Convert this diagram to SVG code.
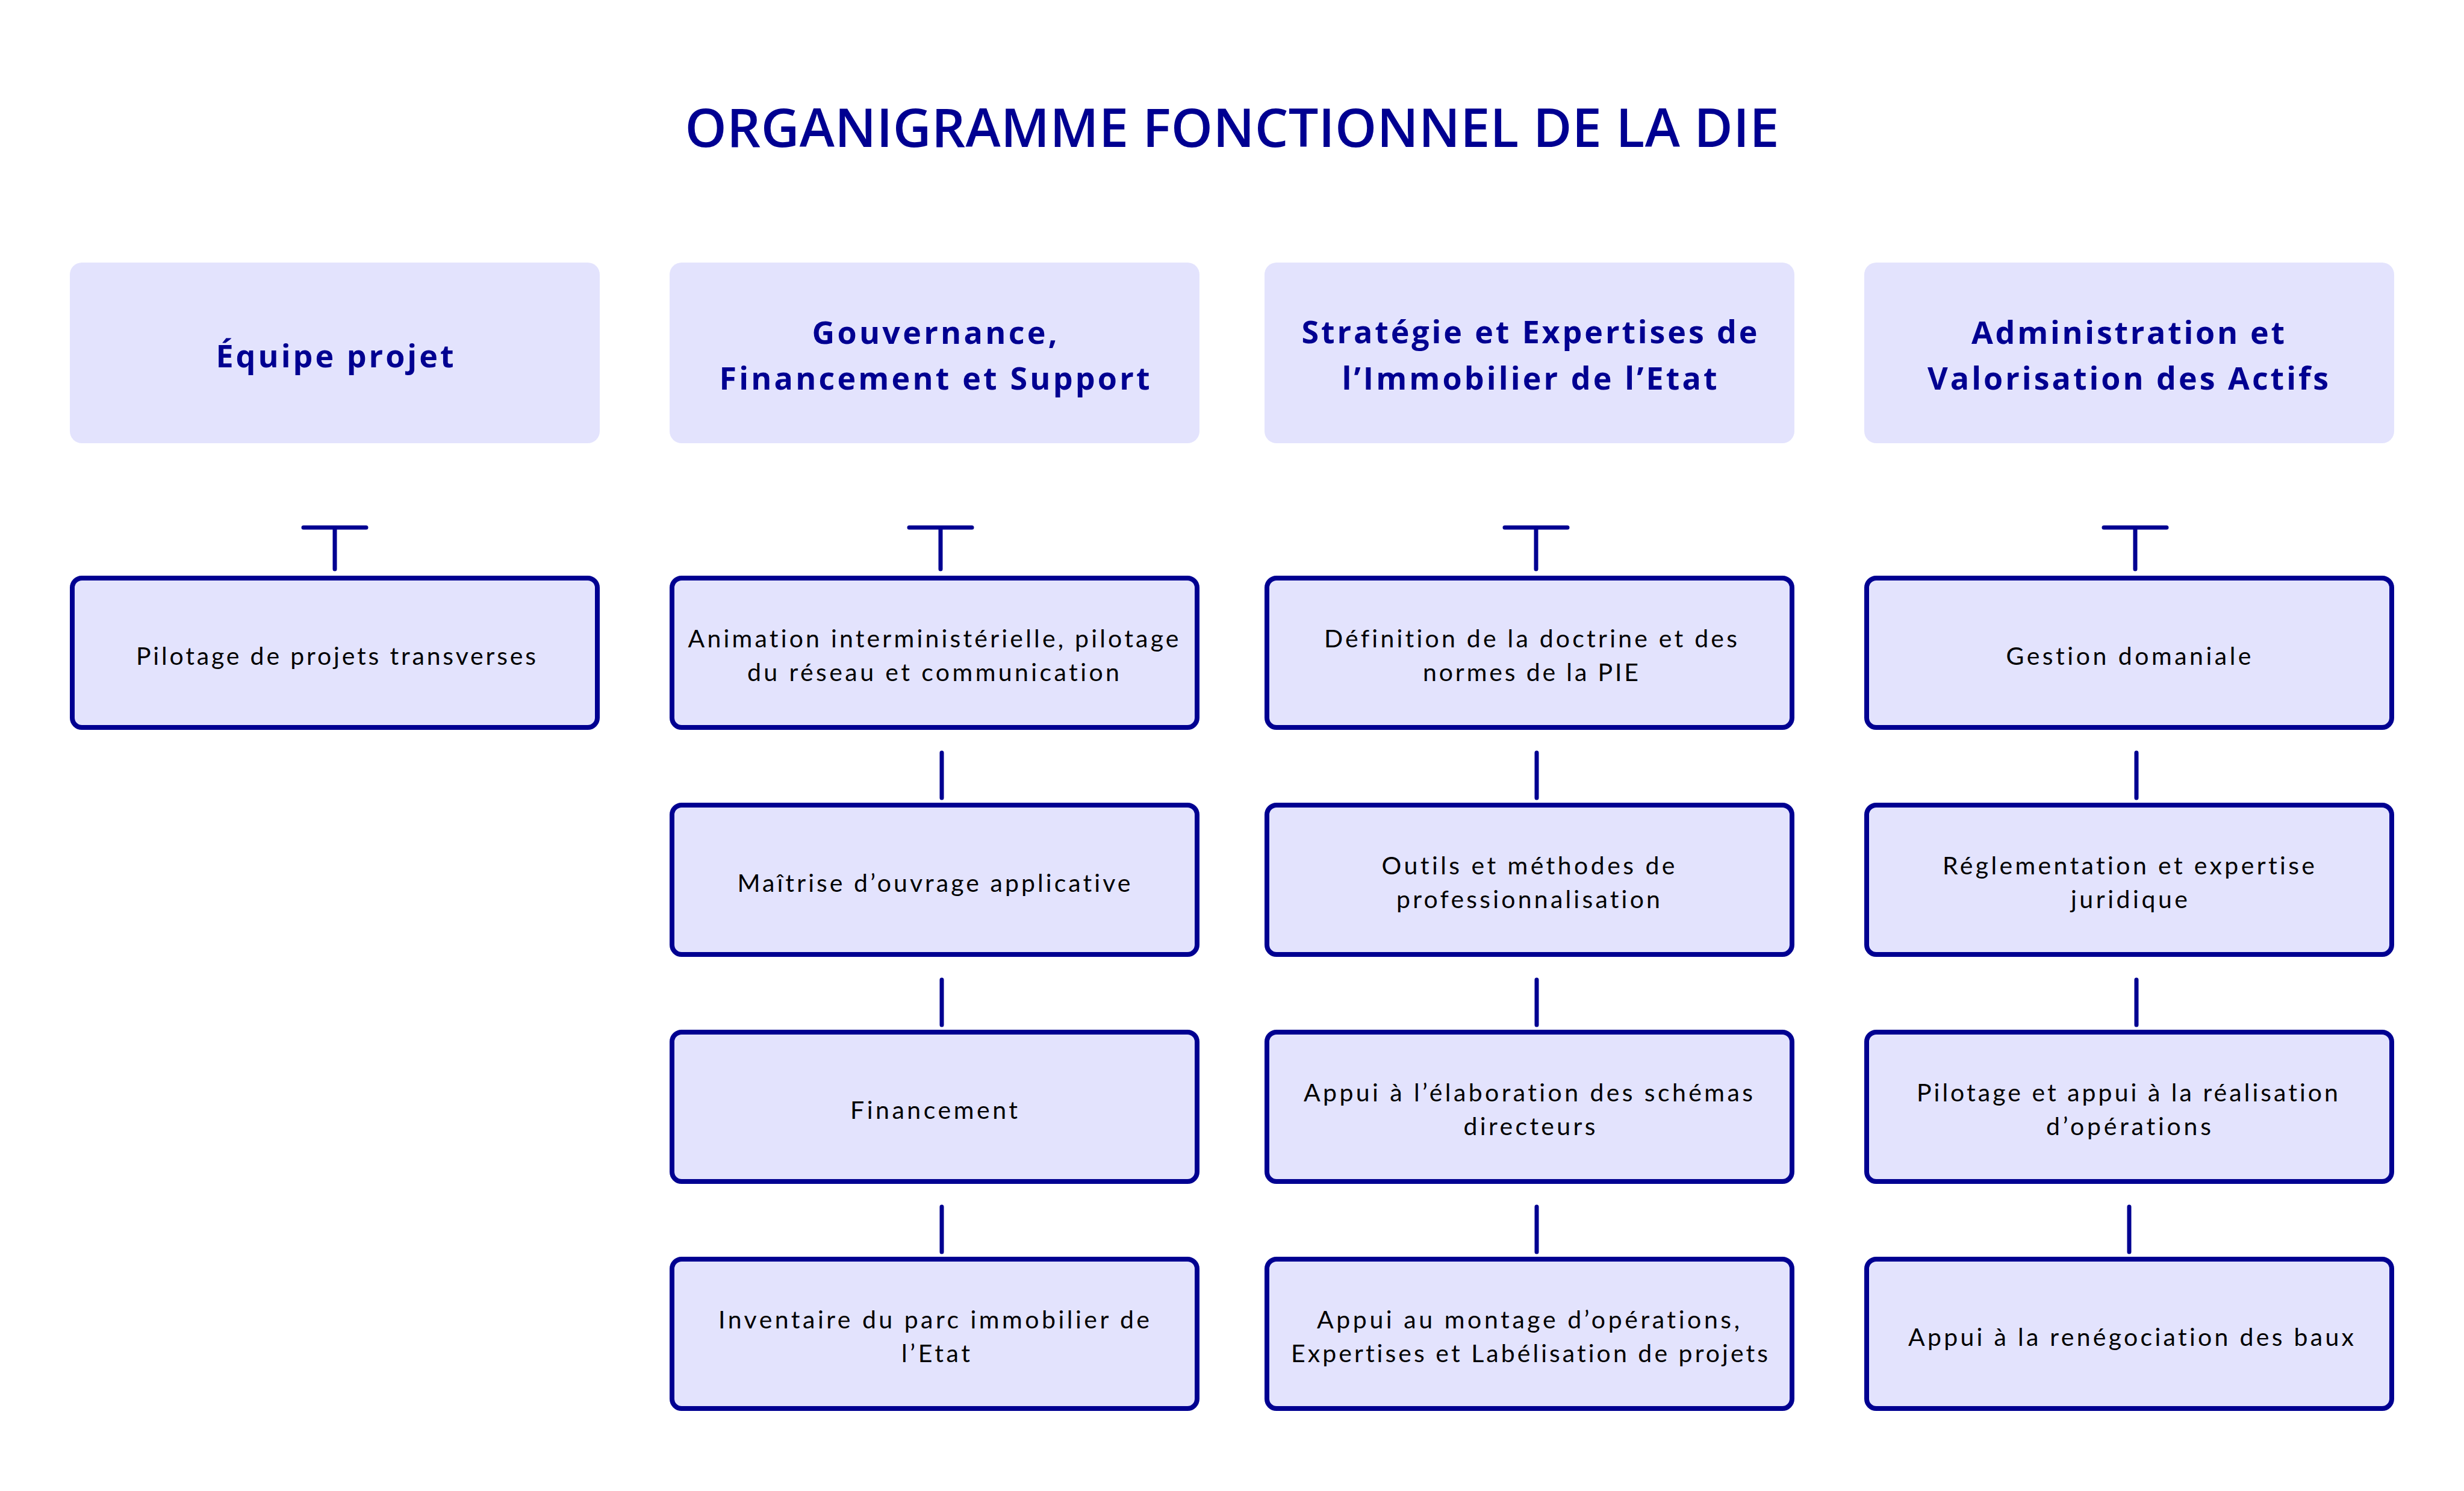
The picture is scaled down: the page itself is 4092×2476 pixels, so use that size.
<svg xmlns="http://www.w3.org/2000/svg" width="4092" height="2476" viewBox="0 0 4092 2476">
<style>
.bg{fill:#ffffff}
.head{fill:#e3e3fd}
.box{fill:#e3e3fd;stroke:#000091;stroke-width:8}
text{font-variant-ligatures:none}
.title{font-family:"Open Sans","Liberation Sans",sans-serif;font-weight:600;font-size:88px;fill:#000091;text-anchor:middle}
.ht{font-family:"Open Sans","Liberation Sans",sans-serif;font-weight:700;font-size:52px;fill:#000091;text-anchor:middle}
.ct{font-family:Lato,"Liberation Sans",sans-serif;font-weight:400;font-size:41px;fill:#000000;text-anchor:middle}
.con{stroke:#000091;stroke-width:7;stroke-linecap:round;fill:none}
</style>
<rect class="bg" x="0" y="0" width="4092" height="2476"/>
<text id="title" class="title" x="2046" y="244" textLength="1817" lengthAdjust="spacing">ORGANIGRAMME FONCTIONNEL DE LA DIE</text>

<g id="h1"><rect class="head" x="116" y="436" width="880" height="300" rx="20"/><text class="ht" x="556" y="610" textLength="395" lengthAdjust="spacing">Équipe projet</text></g>
<g id="h2"><rect class="head" x="1112" y="436" width="880" height="300" rx="20"/><text class="ht" x="1552" y="571" textLength="407" lengthAdjust="spacing">Gouvernance,</text><text class="ht" x="1552" y="647" textLength="715" lengthAdjust="spacing">Financement et Support</text></g>
<g id="h3"><rect class="head" x="2100" y="436" width="880" height="300" rx="20"/><text class="ht" x="2540" y="570" textLength="757" lengthAdjust="spacing">Stratégie et Expertises de</text><text class="ht" x="2540" y="647" textLength="623" lengthAdjust="spacing">l’Immobilier de l’Etat</text></g>
<g id="h4"><rect class="head" x="3096" y="436" width="880" height="300" rx="20"/><text class="ht" x="3534" y="571" textLength="520" lengthAdjust="spacing">Administration et</text><text class="ht" x="3534" y="647" textLength="666" lengthAdjust="spacing">Valorisation des Actifs</text></g>

<g id="connectors">
<path class="con" d="M504 876H608M556 876V945"/>
<path class="con" d="M1510 876H1614M1562 876V945"/>
<path class="con" d="M2499 876H2603M2551 876V945"/>
<path class="con" d="M3494 876H3598M3546 876V945"/>
<path class="con" d="M1564 1250V1325M1564 1627V1702M1564 2004V2079"/>
<path class="con" d="M2552 1250V1325M2552 1627V1702M2552 2004V2079"/>
<path class="con" d="M3548 1250V1325M3548 1627V1702M3536 2004V2079"/>
</g>

<g id="c1r1"><rect class="box" x="120" y="960" width="872" height="248" rx="16"/><text class="ct" x="558" y="1104" textLength="664" lengthAdjust="spacing">Pilotage de projets transverses</text></g>

<g id="c2r1"><rect class="box" x="1116" y="960" width="872" height="248" rx="16"/><text class="ct" x="1550" y="1075" textLength="815" lengthAdjust="spacing">Animation interministérielle, pilotage</text><text class="ct" x="1550" y="1131" textLength="618" lengthAdjust="spacing">du réseau et communication</text></g>
<g id="c2r2"><rect class="box" x="1116" y="1337" width="872" height="248" rx="16"/><text class="ct" x="1551" y="1481" textLength="653" lengthAdjust="spacing">Maîtrise d’ouvrage applicative</text></g>
<g id="c2r3"><rect class="box" x="1116" y="1714" width="872" height="248" rx="16"/><text class="ct" x="1551" y="1858" textLength="278" lengthAdjust="spacing">Financement</text></g>
<g id="c2r4"><rect class="box" x="1116" y="2091" width="872" height="248" rx="16"/><text class="ct" x="1551" y="2206" textLength="716" lengthAdjust="spacing">Inventaire du parc immobilier de</text><text class="ct" x="1554" y="2262" textLength="114" lengthAdjust="spacing">l’Etat</text></g>

<g id="c3r1"><rect class="box" x="2104" y="960" width="872" height="248" rx="16"/><text class="ct" x="2542" y="1075" textLength="686" lengthAdjust="spacing">Définition de la doctrine et des</text><text class="ct" x="2542" y="1131" textLength="358" lengthAdjust="spacing">normes de la PIE</text></g>
<g id="c3r2"><rect class="box" x="2104" y="1337" width="872" height="248" rx="16"/><text class="ct" x="2538" y="1452" textLength="487" lengthAdjust="spacing">Outils et méthodes de</text><text class="ct" x="2538" y="1508" textLength="438" lengthAdjust="spacing">professionnalisation</text></g>
<g id="c3r3"><rect class="box" x="2104" y="1714" width="872" height="248" rx="16"/><text class="ct" x="2538" y="1829" textLength="746" lengthAdjust="spacing">Appui à l’élaboration des schémas</text><text class="ct" x="2540" y="1885" textLength="219" lengthAdjust="spacing">directeurs</text></g>
<g id="c3r4"><rect class="box" x="2104" y="2091" width="872" height="248" rx="16"/><text class="ct" x="2538" y="2206" textLength="702" lengthAdjust="spacing">Appui au montage d’opérations,</text><text class="ct" x="2540" y="2262" textLength="792" lengthAdjust="spacing">Expertises et Labélisation de projets</text></g>

<g id="c4r1"><rect class="box" x="3100" y="960" width="872" height="248" rx="16"/><text class="ct" x="3535" y="1104" textLength="407" lengthAdjust="spacing">Gestion domaniale</text></g>
<g id="c4r2"><rect class="box" x="3100" y="1337" width="872" height="248" rx="16"/><text class="ct" x="3535" y="1452" textLength="618" lengthAdjust="spacing">Réglementation et expertise</text><text class="ct" x="3536" y="1508" textLength="194" lengthAdjust="spacing">juridique</text></g>
<g id="c4r3"><rect class="box" x="3100" y="1714" width="872" height="248" rx="16"/><text class="ct" x="3533" y="1829" textLength="700" lengthAdjust="spacing">Pilotage et appui à la réalisation</text><text class="ct" x="3535" y="1885" textLength="274" lengthAdjust="spacing">d’opérations</text></g>
<g id="c4r4"><rect class="box" x="3100" y="2091" width="872" height="248" rx="16"/><text class="ct" x="3539" y="2235" textLength="740" lengthAdjust="spacing">Appui à la renégociation des baux</text></g>
</svg>
